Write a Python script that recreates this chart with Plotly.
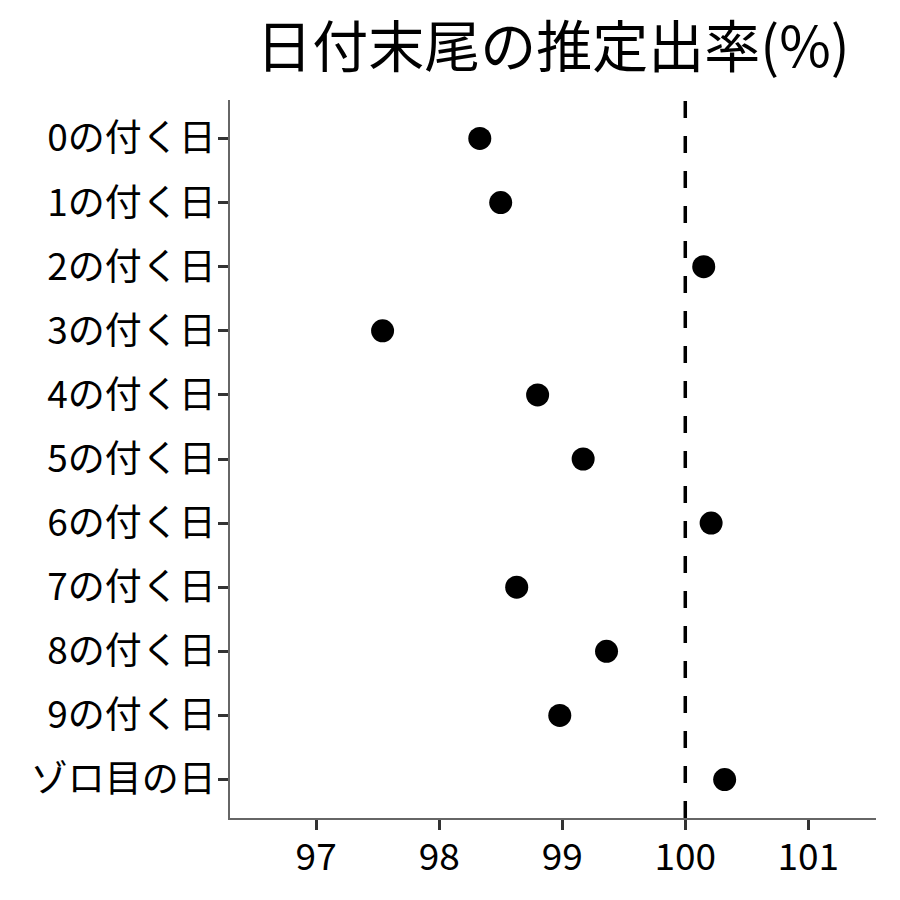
import plotly.graph_objects as go

categories = ["0の付く日", "1の付く日", "2の付く日", "3の付く日", "4の付く日",
              "5の付く日", "6の付く日", "7の付く日", "8の付く日", "9の付く日", "ゾロ目の日"]
values = [98.33, 98.50, 100.15, 97.54, 98.80, 99.17, 100.21, 98.63, 99.36, 98.98, 100.32]
ref_value = 100
x_ticks = [97, 98, 99, 100, 101]
title_text = "日付末尾の推定出率(%)"

font_family = "Noto Sans CJK JP"

# page has an 8px body margin; figure is sized so it fits the 900px window
W, H = 892, 892
OFF = 8
L, R, T, B = 230 - OFF, 24, 100 - OFF, 82

fig = go.Figure()
fig.add_trace(go.Scatter(
    x=values, y=categories, mode="markers",
    marker=dict(color="black", size=23, line=dict(width=0)),
    showlegend=False,
))
fig.add_vline(x=ref_value, line=dict(color="black", width=3.5, dash="17px,18px"))

fig.update_layout(
    width=W, height=H,
    paper_bgcolor="white", plot_bgcolor="white",
    margin=dict(l=L, r=R, t=T, b=B),
    font=dict(family=font_family, color="black"),
    title=dict(text=title_text, x=(553 - OFF) / W, xanchor="center",
               y=1 - (47 - OFF) / H, yanchor="middle",
               font=dict(size=56, family=font_family, color="black")),
    xaxis=dict(range=[96.30, 101.55], tickvals=x_ticks, ticktext=[str(t) for t in x_ticks],
               showgrid=False, zeroline=False, showline=True, linecolor="#666666", linewidth=1.5,
               ticks="outside", ticklen=10, tickwidth=3, tickcolor="#333333",
               ticklabelstandoff=-4,
               tickfont=dict(size=37, family=font_family, color="black")),
    yaxis=dict(categoryorder="array", categoryarray=categories, autorange=False,
               range=[10.6, -0.6],
               showgrid=False, zeroline=False, showline=True, linecolor="#666666", linewidth=1.5,
               ticks="outside", ticklen=10, tickwidth=3, tickcolor="#333333",
               ticklabelstandoff=-5,
               tickfont=dict(size=37, family=font_family, color="black")),
)

fig.write_html("out.html")
